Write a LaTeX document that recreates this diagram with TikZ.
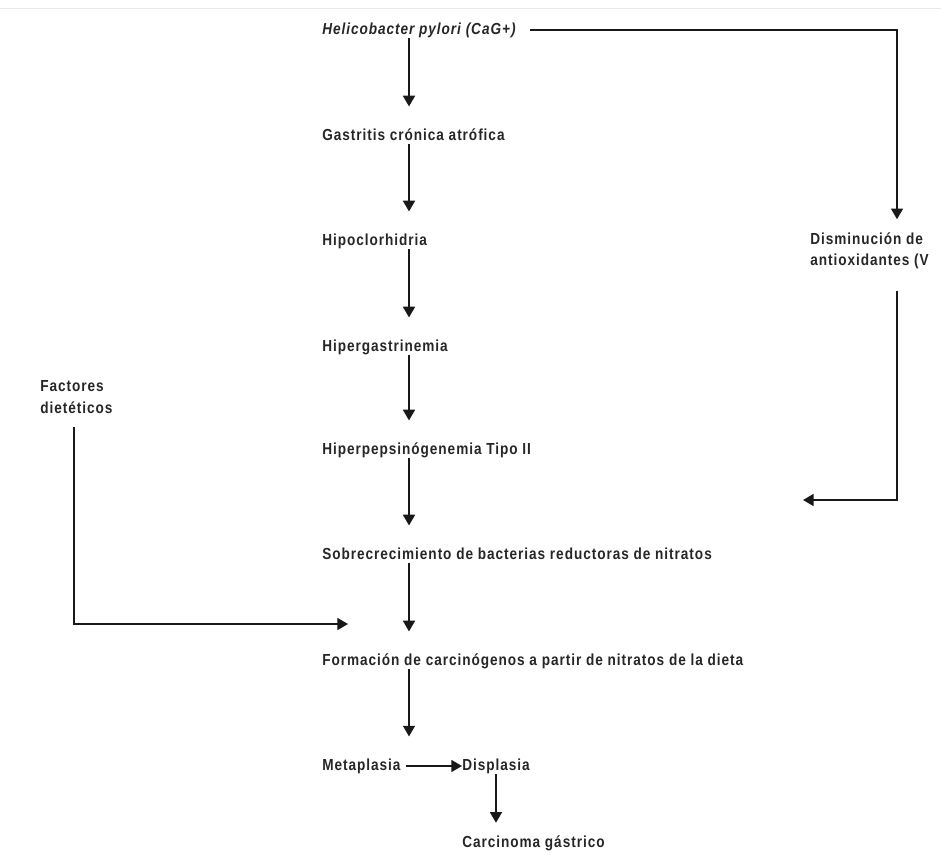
\documentclass[tikz,border=0pt]{standalone}
\usepackage{fontspec}
\setmainfont{Liberation Sans}[FakeStretch=0.85,LetterSpace=6]
\usetikzlibrary{arrows.meta}
\newcommand{\stagefont}{\fontsize{12}{16}\selectfont\bfseries}
\tikzset{stage/.style={anchor=west,inner sep=0pt,text=black!85,
                       font=\stagefont,text height=8pt,text depth=2pt}}
\tikzset{note/.style={anchor=west,inner sep=0pt,text=black!85,
                      font=\stagefont,align=left}}
\tikzset{flow/.style={-{Triangle[width=9pt,length=8pt]},line width=1.2pt,
                      black!90,shorten <=1pt,shorten >=17pt}}
\begin{document}
\begin{tikzpicture}[x=0.75pt,y=-0.75pt]
    \useasboundingbox (0,0) rectangle (941,854);
    \draw[black!8] (0,8) -- (941,8);
    % Columns for the vertical connectors
    \coordinate (col) at (409,0);
    \coordinate (fcol) at (74,0);
    \coordinate (rcol) at (897,0);
    % Main chain
    \node[stage,font=\stagefont\itshape] (hp) at (322,30) {Helicobacter pylori (CaG+)};
    \node[stage] (gas)  at (322,136) {Gastritis crónica atrófica};
    \node[stage] (hipo) at (322,241) {Hipoclorhidria};
    \node[stage] (hgas) at (322,347) {Hipergastrinemia};
    \node[stage] (hpep) at (322,450) {Hiperpepsinógenemia Tipo II};
    \node[stage] (sob)  at (322,555) {Sobrecrecimiento de bacterias reductoras de nitratos};
    \node[stage] (form) at (322,661) {Formación de carcinógenos a partir de nitratos de la dieta};
    \node[stage] (meta) at (322,766) {Metaplasia};
    \node[stage] (disp) at (462,766) {Displasia};
    \node[stage] (carc) at (462,843) {Carcinoma gástrico};
    \foreach \a/\b in {hp/gas,gas/hipo,hipo/hgas,hgas/hpep,hpep/sob,sob/form,form/meta}{%
          \draw[flow] (\a.south -| col) -- (\b.north -| col);
        }
    \draw[flow,shorten <=4pt,shorten >=0pt] (meta) -- (disp);
    \draw[flow,shorten >=10pt] (disp.south) -- (carc.north -| disp.south);
    % Dietary factors
    \node[note] (fac) at (40,397) {Factores\\dietéticos};
    \coordinate (facin) at (348,624);
    \draw[flow,shorten <=10pt,shorten >=0pt] (fac.south -| fcol) |- (facin);
    % Antioxidants branch
    \node[note] (dis) at (810,251) {Disminución de\\antioxidantes (V};
    \coordinate (antin) at (803,500);
    \draw[flow,shorten <=11pt,shorten >=10pt] (hp.east) -| (dis.north -| rcol);
    \draw[flow,shorten <=16pt,shorten >=0pt] (dis.south -| rcol) |- (antin);
\end{tikzpicture}
\end{document}
